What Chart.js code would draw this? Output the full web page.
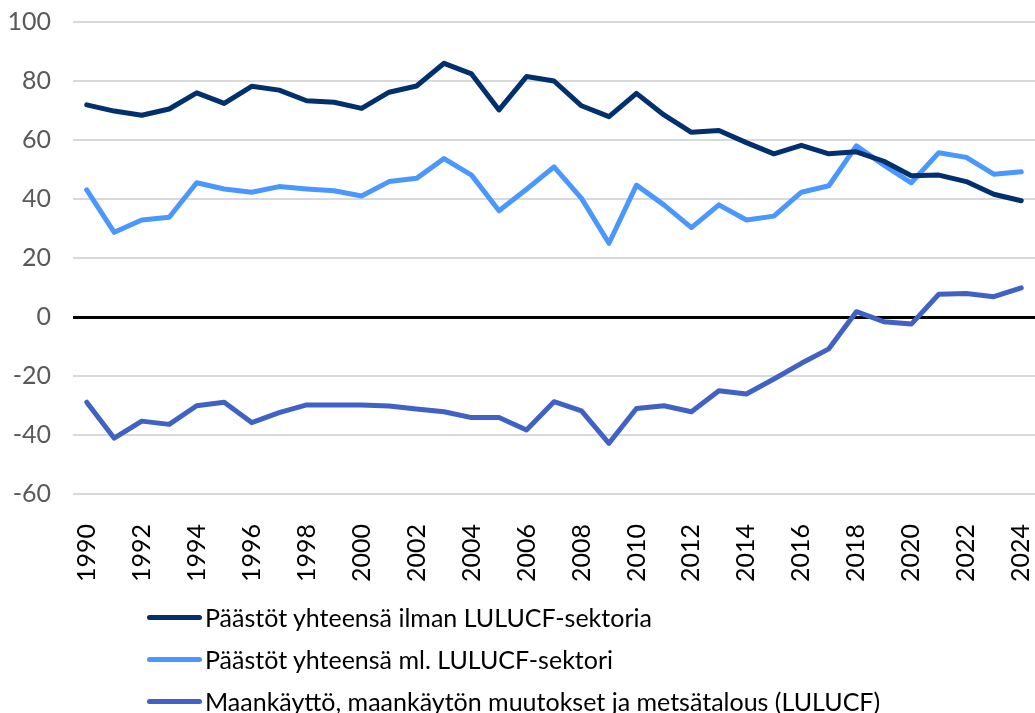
<!DOCTYPE html>
<html>
<head>
<meta charset="utf-8">
<script src="https://cdn.jsdelivr.net/npm/chart.js@4"></script>
<style>
  html, body { margin: 0; padding: 0; background: #fff; }
  #wrap { position: relative; width: 1035px; height: 713px; }
  #chart-box { position: absolute; left: 0; top: 0; width: 1035px; height: 600px; }
  #legend { position: absolute; left: 147px; top: 596px; font-family: Lato, sans-serif; font-size: 25px; color: #000; }
  .leg-item { display: flex; align-items: center; height: 42px; }
  .leg-line { width: 55px; height: 5px; border-radius: 3px; margin-right: 3px; }
</style>
</head>
<body>
<div id="wrap">
  <div id="chart-box"><canvas id="emissions-chart"></canvas></div>
  <div id="legend"></div>
</div>
<script>
// Vuodet ja sarjat (milj. t CO2-ekv.)
const years = [];
for (let y = 1990; y <= 2024; y++) years.push(String(y));

const totalWithoutLulucf = [71.9, 69.8, 68.4, 70.5, 76.0, 72.4, 78.2, 76.9, 73.3, 72.8,
    70.7, 76.2, 78.3, 86.0, 82.4, 70.2, 81.5, 80.0, 71.6, 67.9,
    75.8, 68.5, 62.6, 63.2, 59.1, 55.3, 58.2, 55.3, 56.0, 52.8,
    47.9, 48.1, 45.9, 41.6, 39.4];

const totalWithLulucf = [43.1, 28.7, 32.9, 33.8, 45.5, 43.4, 42.3, 44.2, 43.4, 42.8,
    41.0, 45.9, 47.0, 53.7, 48.1, 36.0, 43.3, 50.9, 40.2, 25.0,
    44.7, 38.0, 30.3, 38.0, 32.9, 34.2, 42.3, 44.5, 58.0, 51.5,
    45.5, 55.7, 54.1, 48.4, 49.2];

const lulucf = [-28.9, -41.1, -35.3, -36.4, -30.1, -28.9, -35.8, -32.4, -29.8, -29.8,
    -29.8, -30.2, -31.2, -32.1, -34.1, -34.1, -38.3, -28.7, -31.8, -42.8,
    -31.0, -30.1, -32.1, -25.0, -26.1, -21.0, -15.7, -10.8, 1.8, -1.6,
    -2.4, 7.7, 8.0, 6.9, 9.9];

const seriesLabels = [
    'Päästöt yhteensä ilman LULUCF-sektoria',
    'Päästöt yhteensä ml. LULUCF-sektori',
    'Maankäyttö, maankäytön muutokset ja metsätalous (LULUCF)'
];
const seriesColors = ['#00306d', '#4a98ff', '#3f62c4'];

const yMin = -60, yMax = 100, yStep = 20;

const ctx = document.getElementById('emissions-chart').getContext('2d');
const chart = new Chart(ctx, {
    type: 'line',
    data: {
        labels: years,
        datasets: [totalWithoutLulucf, totalWithLulucf, lulucf].map((d, i) => ({
            label: seriesLabels[i],
            data: d,
            borderColor: seriesColors[i],
            backgroundColor: seriesColors[i],
            borderWidth: 5,
            pointRadius: 0,
            tension: 0,
            borderCapStyle: 'round',
            borderJoinStyle: 'round'
        }))
    },
    options: {
        responsive: true,
        maintainAspectRatio: false,
        animation: false,
        layout: { padding: { top: 22, right: 0, bottom: 0, left: 0 } },
        plugins: {
            legend: { display: false },
            tooltip: { enabled: false }
        },
        scales: {
            x: {
                offset: true,
                grid: { display: false },
                border: { display: false },
                afterFit: s => { s.height = 106; s.paddingRight = 0; s.paddingLeft = 0; },
                ticks: {
                    autoSkip: false,
                    minRotation: 90,
                    maxRotation: 90,
                    padding: 22,
                    color: '#000',
                    font: { family: 'Lato', size: 25 },
                    callback: function (v, i) { return i % 2 === 0 ? this.getLabelForValue(v) : ''; }
                }
            },
            y: {
                min: yMin,
                max: yMax,
                border: { display: false },
                afterFit: s => { s.width = 73; s.paddingTop = 0; s.paddingBottom = 0; },
                grid: {
                    drawTicks: false,
                    color: c => c.tick.value === 0 ? '#000' : '#d9d9d9',
                    lineWidth: c => c.tick.value === 0 ? 3 : 2
                },
                ticks: {
                    stepSize: yStep,
                    padding: 22,
                    color: '#595959',
                    font: { family: 'Lato', size: 25 }
                }
            }
        }
    }
});

// Selite HTML:nä, yksi rivi per sarja
const legendEl = document.getElementById('legend');
chart.data.datasets.forEach(ds => {
    const row = document.createElement('div');
    row.className = 'leg-item';
    const line = document.createElement('span');
    line.className = 'leg-line';
    line.style.background = ds.borderColor;
    const txt = document.createElement('span');
    txt.textContent = ds.label;
    row.appendChild(line);
    row.appendChild(txt);
    legendEl.appendChild(row);
});
</script>
</body>
</html>
